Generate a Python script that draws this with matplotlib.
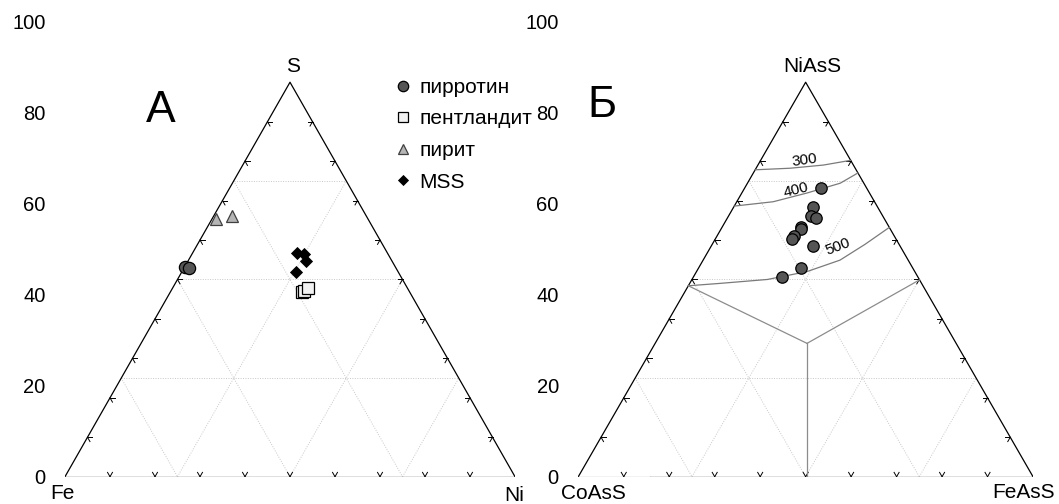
import numpy as np
import matplotlib
matplotlib.use("Agg")
import matplotlib.pyplot as plt

plt.rcParams["font.family"] = ["Liberation Sans", "DejaVu Sans"]

# --- panel A: Fe - Ni - S (at.%), S on top, Ni to the right ---
pyrrhotite_S = [53.2, 53.0]
pyrrhotite_Ni = [0.0, 1.1]
pentlandite_S = [46.7, 47.1, 47.8]
pentlandite_Ni = [29.3, 29.6, 30.2]
pyrite_S = [65.4, 66.0]
pyrite_Ni = [0.9, 4.1]
mss_S = [56.8, 56.5, 54.7, 51.9]
mss_Ni = [23.1, 24.9, 26.3, 25.3]

legend_labels = ["пирротин", "пентландит", "пирит", "MSS"]

# --- panel Б: CoAsS - FeAsS - NiAsS, NiAsS on top, FeAsS to the right ---
gers_NiAsS = [73.1, 68.3, 66.1, 65.7, 63.3, 62.7, 61.1, 60.2, 58.5, 53.0, 50.7]
gers_FeAsS = [16.8, 17.4, 18.2, 19.5, 17.3, 17.7, 16.9, 16.8, 22.4, 22.4, 19.5]

# isotherms (deg C)
iso_labels = ["300", "400", "500"]
iso_NiAsS = [[77.8, 78.2, 79.0, 80.2],
             [68.6, 69.7, 71.9, 74.4, 77.0],
             [48.4, 49.0, 50.0, 52.0, 54.9, 58.9, 63.2]]
iso_FeAsS = [[0.0, 7.5, 14.4, 19.8],
             [0.0, 8.0, 14.3, 20.4, 23.0],
             [0.0, 6.6, 16.6, 24.3, 30.1, 33.6, 36.8]]
iso_label_NiAsS = [80.3, 72.6, 58.2]
iso_label_FeAsS = [9.6, 11.6, 27.9]
iso_label_rot = [8, 14, 21]

# miscibility gap boundaries, meeting at a triple junction
junction = (33.8, 33.4)  # (NiAsS, FeAsS)
boundary_ends_NiAsS = [48.4, 49.9, 0.0]
boundary_ends_FeAsS = [0.0, 50.1, 50.3]

H = np.sqrt(3) / 2


def tern(right, top):
    right = np.asarray(right, dtype=float)
    top = np.asarray(top, dtype=float)
    return right + top / 2, top * H


def draw_frame(ax, grey_base_to=None):
    # grid at 25 % steps
    for v in (25, 50, 75):
        for a, b in (((0, v), (100 - v, v)),        # constant top
                     ((v, 0), (v, 100 - v)),        # constant right
                     ((0, 100 - v), (100 - v, 0))):  # constant left
            x, y = tern([a[0], b[0]], [a[1], b[1]])
            ax.plot(x, y, color="#c8c8c8", lw=0.7, ls=(0, (1, 1.5)), zorder=1)
    # edges
    ax.plot([0, 50, 100], [0, 100 * H, 0], color="black", lw=0.9, zorder=2)
    if grey_base_to is None:
        ax.plot([0, 100], [0, 0], color="black", lw=0.9, zorder=2)
    else:
        ax.plot([0, grey_base_to], [0, 0], color="#9a9a9a", lw=0.9, zorder=2)
        ax.plot([grey_base_to, 100], [0, 0], color="black", lw=0.9, zorder=2)
    # ticks every 10 %
    L = 1.1
    for v in range(10, 100, 10):
        # base: "v" marks
        for dx in (-0.5, 0.5):
            ax.plot([v, v + dx * L], [0, H * L], color="black", lw=0.7, zorder=2)
        # left edge "<"
        xl, yl = tern(0, v)
        ax.plot([xl, xl + L], [yl, yl], color="black", lw=0.7, zorder=2)
        ax.plot([xl, xl + 0.5 * L], [yl, yl - H * L], color="black", lw=0.7, zorder=2)
        # right edge ">"
        xr, yr = tern(100 - v, v)
        ax.plot([xr, xr - L], [yr, yr], color="black", lw=0.7, zorder=2)
        ax.plot([xr, xr - 0.5 * L], [yr, yr - H * L], color="black", lw=0.7, zorder=2)

    ax.set_xlim(0, 100)
    ax.set_ylim(0, 100)
    ax.set_xticks([])
    ax.set_yticks([0, 20, 40, 60, 80, 100])
    ax.tick_params(axis="y", length=0, pad=14, labelsize=14.5)
    for s in ax.spines.values():
        s.set_visible(False)
    ax.patch.set_alpha(0)


fig = plt.figure(figsize=(10.59, 5.04), dpi=100)
ax1 = fig.add_axes([65 / 1059, 27.3 / 504, 450 / 1059, 455.5 / 504])
ax2 = fig.add_axes([578.3 / 1059, 27.3 / 504, 454.7 / 1059, 455.5 / 504])

# ---------------- panel A ----------------
draw_frame(ax1)
x, y = tern(pyrrhotite_Ni, pyrrhotite_S)
h1, = ax1.plot(x, y, "o", ms=8.8, mfc="#555555", mec="black", mew=0.9,
               label=legend_labels[0], clip_on=False, zorder=5)
x, y = tern(pentlandite_Ni, pentlandite_S)
h2, = ax1.plot(x, y, "s", ms=8.2, mfc="#f2f2f2", mec="black", mew=0.9,
               label=legend_labels[1], zorder=5)
x, y = tern(pyrite_Ni, pyrite_S)
h3, = ax1.plot(x, y, "^", ms=8.8, mfc="#b5b5b5", mec="#404040", mew=0.9,
               label=legend_labels[2], zorder=5)
x, y = tern(mss_Ni, mss_S)
h4, = ax1.plot(x, y, "D", ms=6.0, mfc="black", mec="black", mew=0.6,
               label=legend_labels[3], zorder=5)

ax1.text(50.7, 88.85, "S", ha="center", va="baseline", fontsize=15)
ax1.text(-0.5, -5.0, "Fe", ha="center", va="baseline", fontsize=15, clip_on=False)
ax1.text(99.8, -5.3, "Ni", ha="center", va="baseline", fontsize=15, clip_on=False)
ax1.text(21.3, 77.9, "А", ha="center", va="baseline", fontsize=32)

leg = fig.legend(handles=[h1, h2, h3, h4], loc="upper left",
                 bbox_to_anchor=(392.6 / 1059, 1 - 78 / 504),
                 frameon=False, fontsize=15, handlelength=1.0,
                 handletextpad=0.3, labelspacing=0.6, borderpad=0,
                 borderaxespad=0, markerscale=0.85)

# ---------------- panel Б ----------------
draw_frame(ax2, grey_base_to=15.8)

for nis, fes in zip(boundary_ends_NiAsS, boundary_ends_FeAsS):
    x, y = tern([fes, junction[1]], [nis, junction[0]])
    ax2.plot(x, y, color="#8c8c8c", lw=0.9, zorder=3)

for lab, nis, fes, ln, lf, rot in zip(iso_labels, iso_NiAsS, iso_FeAsS,
                                      iso_label_NiAsS, iso_label_FeAsS, iso_label_rot):
    x, y = tern(fes, nis)
    ax2.plot(x, y, color="#7a7a7a", lw=0.9, zorder=3)
    tx, ty = tern(lf, ln)
    ax2.text(tx, ty, lab, ha="center", va="center", fontsize=11,
             rotation=rot, zorder=4)

x, y = tern(gers_FeAsS, gers_NiAsS)
ax2.plot(x, y, "o", ms=8.2, mfc="#555555", mec="black", mew=0.9, zorder=5)

ax2.text(51.5, 88.85, "NiAsS", ha="center", va="baseline", fontsize=15)
ax2.text(-3.8, -5.0, "CoAsS", ha="left", va="baseline", fontsize=15, clip_on=False)
ax2.text(91.0, -4.6, "FeAsS", ha="left", va="baseline", fontsize=15, clip_on=False)
ax2.text(5.3, 79.0, "Б", ha="center", va="baseline", fontsize=32)

fig.savefig("out.png", dpi=100)
